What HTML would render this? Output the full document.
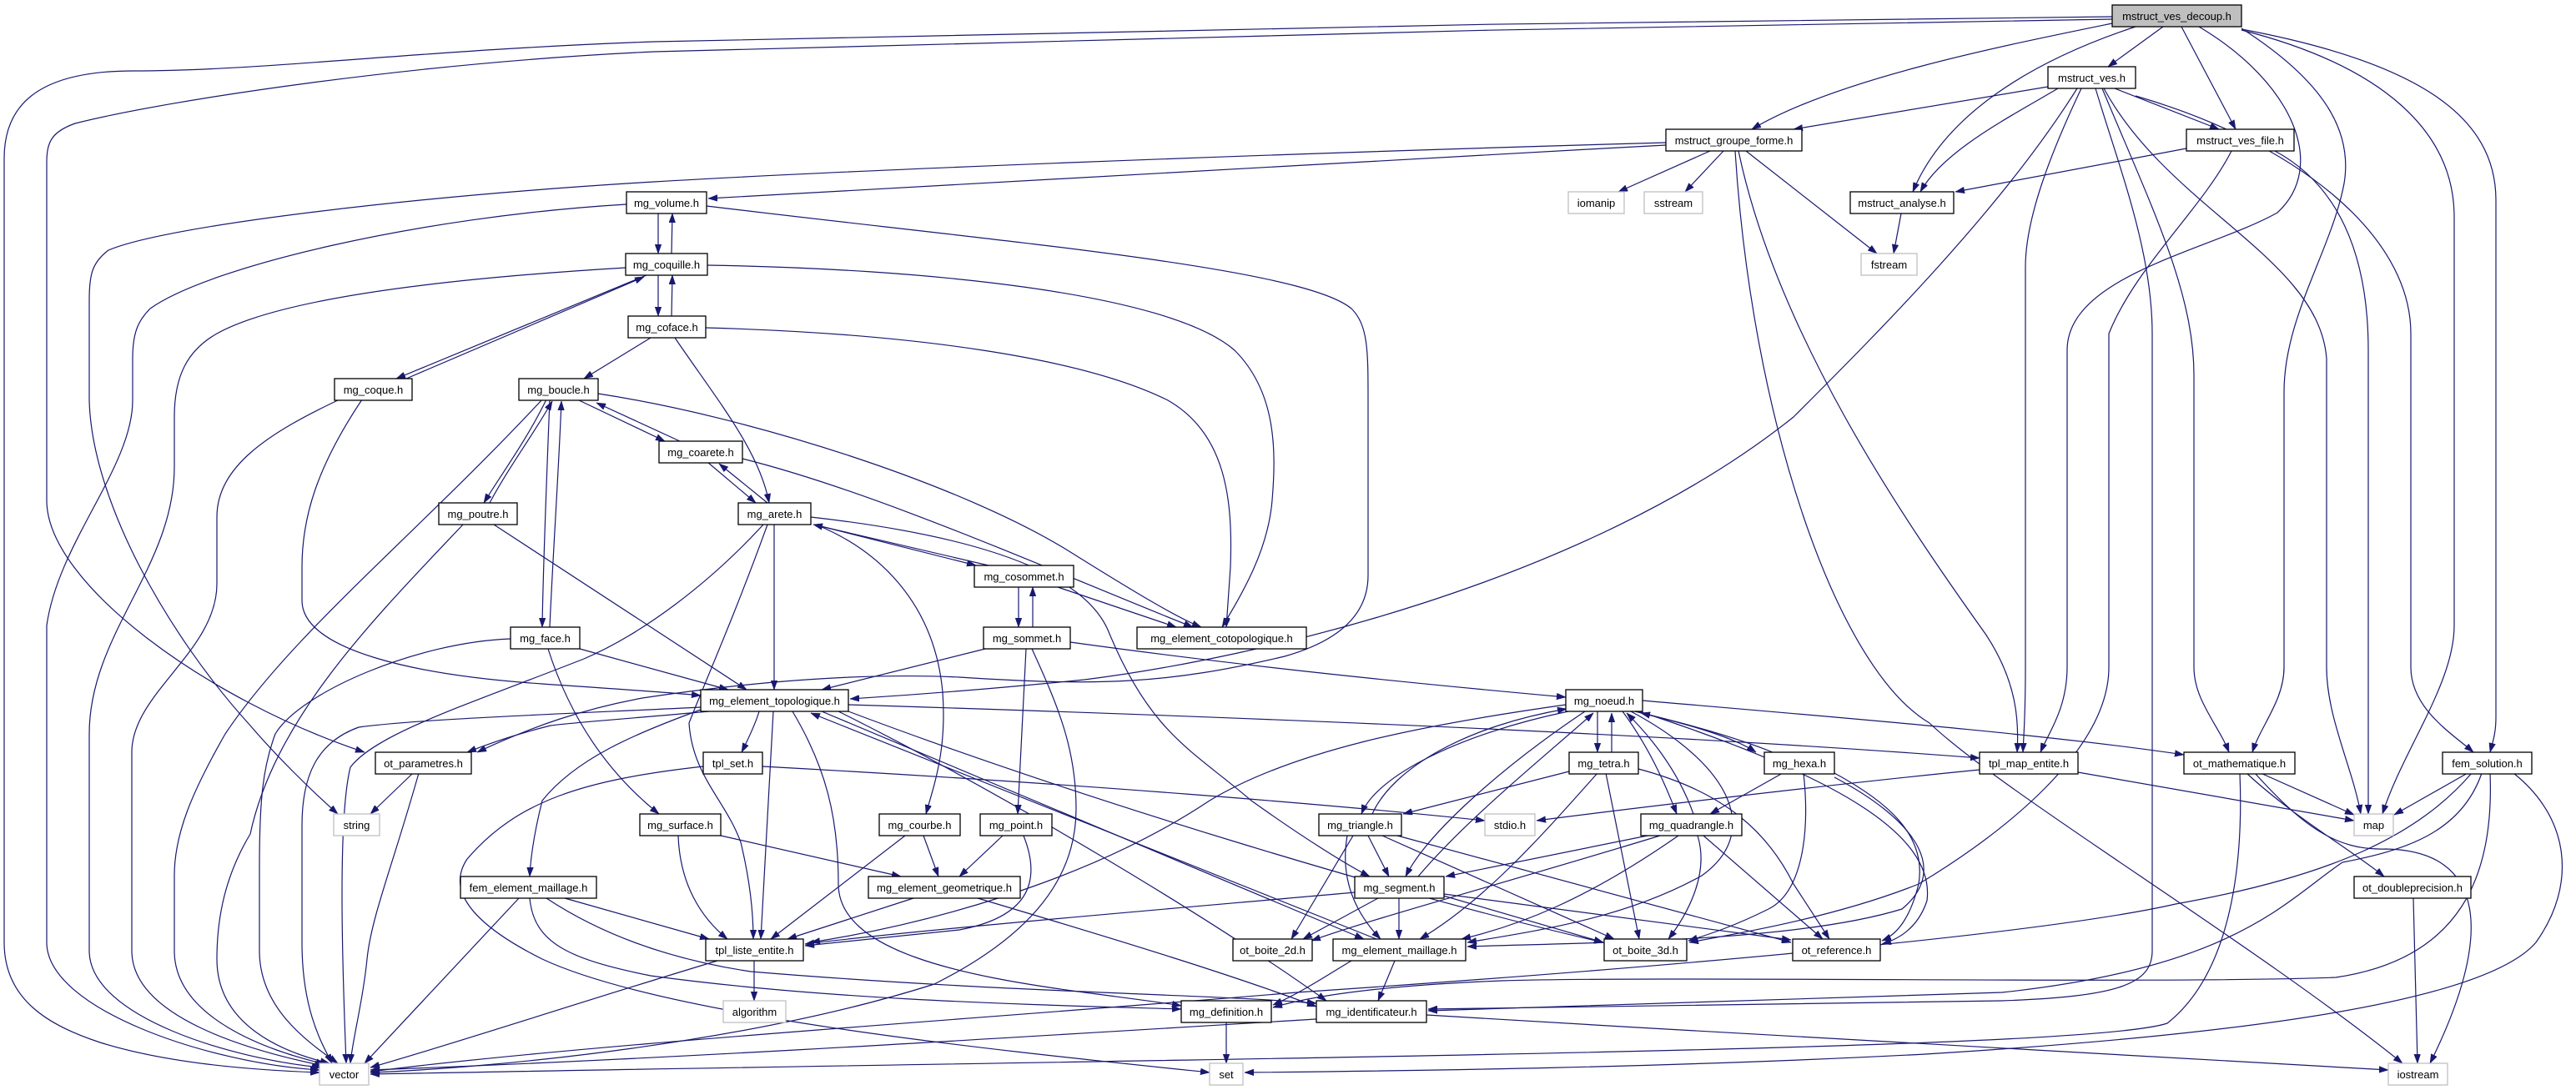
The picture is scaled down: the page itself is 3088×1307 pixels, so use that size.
<!DOCTYPE html>
<html><head><meta charset="utf-8"><style>
html,body{margin:0;padding:0;background:#fff;}
svg{display:block;}
text{font-family:"Liberation Sans",Arial,sans-serif;font-size:13px;fill:#000;}
</style></head><body>
<svg xmlns="http://www.w3.org/2000/svg" width="3088" height="1307" viewBox="0 0 3088 1307">
<defs>
<marker id="a" viewBox="0 0 10 7" refX="10" refY="3.5" markerWidth="11" markerHeight="8" markerUnits="userSpaceOnUse" orient="auto">
<path d="M0,0 L10,3.5 L0,7 z" fill="#191970" stroke="#191970" stroke-width="0.5"/>
</marker>
</defs>
<rect width="3088" height="1307" fill="#fff"/>
<g fill="none" stroke="#191970" stroke-width="1.2" marker-end="url(#a)">
<!-- decoup -->
<path d="M2532,20 C2000,24 1200,38 784,50 C500,60 320,85 160,85 C40,85 5,130 5,190 L5,1130 C5,1200 60,1230 120,1250 C200,1275 300,1283 383,1286"/>
<path d="M2532,23 C2000,30 1200,48 784,62 C500,75 200,120 90,148 C62,158 56,170 56,195 L56,600 C56,700 250,840 437,902"/>
<path d="M2532,28 C2400,55 2200,95 2100,155"/>
<path d="M2593,32 L2527,80"/>
<path d="M2615,32 L2680,155"/>
<path d="M2560,32 C2430,75 2330,140 2293,230"/>
<path d="M2636,32 C2750,100 2790,200 2730,255 C2650,300 2478,330 2478,420 L2478,800 C2478,850 2455,880 2446,902"/>
<path d="M2687,34 C2790,100 2820,160 2810,220 C2795,300 2738,380 2738,470 L2738,800 C2738,840 2710,870 2700,902"/>
<path d="M2687,36 C2860,80 2942,160 2942,260 L2942,750 C2942,820 2880,900 2856,976"/>
<path d="M2687,35 C2900,75 2992,140 2992,240 L2992,860 C2992,880 2988,890 2985,902"/>
<!-- ves -->
<path d="M2455,104 L2150,155"/>
<path d="M2467,106 C2410,140 2330,180 2302,230"/>
<path d="M2535,106 L2660,155"/>
<path d="M2495,106 C2460,180 2428,260 2428,320 L2428,800 C2428,860 2426,880 2425,902"/>
<path d="M2512,106 C2540,200 2580,300 2580,400 L2580,1140 C2580,1180 2540,1195 2400,1200 C2100,1205 1850,1208 1712,1210"/>
<path d="M2520,106 C2580,250 2630,350 2630,450 L2630,800 C2630,840 2660,870 2672,902"/>
<path d="M2522,106 C2600,250 2780,310 2789,430 L2789,800 C2789,860 2820,920 2830,976"/>
<path d="M2560,115 C2750,170 2890,280 2890,400 L2890,800 C2890,850 2940,880 2965,902"/>
<path d="M2490,106 C2400,250 2250,400 2150,500 C1900,700 1500,790 1300,815 C1150,830 1050,836 1019,838"/>
<!-- ves_file -->
<path d="M2621,178 L2344,230"/>
<path d="M2675,181 C2640,250 2560,320 2528,400 L2528,800 C2528,900 2400,1000 2300,1060 C2200,1100 2080,1120 2025,1130"/>
<path d="M2727,181 C2800,220 2839,300 2839,420 L2839,976"/>
<!-- groupe_forme -->
<path d="M1997,174 C1600,195 1200,220 849,238"/>
<path d="M1997,171 C1500,185 1000,205 784,218 C500,235 200,270 130,300 C110,315 107,330 107,360 L107,480 C110,600 200,760 300,870 C330,905 370,945 405,976"/>
<path d="M2050,181 L1940,230"/>
<path d="M2066,181 L2020,230"/>
<path d="M2093,181 L2250,304"/>
<path d="M2084,181 C2130,400 2280,620 2380,760 C2420,820 2420,870 2418,902"/>
<path d="M2080,181 C2100,500 2200,800 2313,867 C2400,950 2700,1130 2880,1275"/>
<!-- analyse -->
<path d="M2279,256 L2270,304"/>
<!-- volume -->
<path d="M789,256 L789,304"/>
<path d="M847,247 C1200,290 1560,320 1620,370 C1640,390 1640,420 1640,480 L1640,690 C1640,740 1600,770 1540,787 C1400,820 1320,823 1150,812 C1000,805 850,825 770,837 C700,850 640,870 572,902"/>
<path d="M751,245 C500,260 250,320 180,370 C165,385 159,400 159,430 L159,480 C159,560 70,650 56,750 L56,1130 C56,1210 250,1275 383,1283"/>
<!-- coquille -->
<path d="M805,304 L806,256"/>
<path d="M789,330 L789,379"/>
<path d="M775,330 L475,454"/>
<path d="M750,321 C600,330 350,350 260,400 C225,420 209,450 209,500 L209,560 C209,680 107,760 107,880 L107,1140 C107,1220 280,1270 385,1280"/>
<path d="M848,318 C1100,322 1400,350 1480,420 C1530,470 1530,540 1525,600 C1520,660 1490,710 1465,752"/>
<!-- coface -->
<path d="M805,379 L806,330"/>
<path d="M780,405 L700,454"/>
<path d="M809,405 C860,480 910,540 922,603"/>
<path d="M846,393 C1100,400 1300,430 1400,480 C1470,520 1478,600 1475,680 L1470,752"/>
<!-- coque -->
<path d="M487,454 L772,332"/>
<path d="M407,479 C320,520 260,560 260,620 L260,700 C260,780 160,830 158,900 L158,1140 C158,1220 300,1260 388,1278"/>
<path d="M434,479 C380,560 362,620 362,680 L362,720 C362,780 500,810 650,820 C750,827 800,830 840,834"/>
<!-- boucle -->
<path d="M650,479 C500,640 350,760 270,880 C230,950 209,1000 209,1050 L209,1140 C209,1220 320,1260 390,1276"/>
<path d="M655,479 C630,530 600,570 580,603"/>
<path d="M659,479 C655,580 651,680 650,752"/>
<path d="M692,479 L797,529"/>
<path d="M717,472 C900,500 1150,580 1280,660 C1360,710 1410,740 1440,752"/>
<!-- poutre -->
<path d="M587,603 C610,560 640,520 662,481"/>
<path d="M592,629 L895,827"/>
<path d="M555,629 C450,740 330,860 300,1000 C270,1050 260,1100 260,1150 C260,1230 340,1262 395,1275"/>
<!-- face -->
<path d="M659,752 C662,680 670,560 673,481"/>
<path d="M695,778 L873,827"/>
<path d="M612,766 C500,770 360,830 330,880 C315,920 311,960 311,1040 L311,1140 C311,1210 370,1250 405,1275"/>
<path d="M657,778 C680,850 720,920 790,976"/>
<!-- coarete -->
<path d="M815,529 L715,483"/>
<path d="M848,554 L906,603"/>
<path d="M890,550 C1050,590 1250,680 1430,752"/>
<!-- arete -->
<path d="M920,603 L862,556"/>
<path d="M928,629 L928,827"/>
<path d="M915,629 C850,700 770,760 700,790 C560,845 450,880 420,920 C405,980 410,1150 415,1275"/>
<path d="M920,629 C880,740 840,830 826,867 C830,930 870,960 888,1010 C900,1060 903,1100 903,1126"/>
<path d="M980,630 L1170,678"/>
<path d="M985,632 C1050,660 1120,720 1130,830 C1135,900 1120,940 1110,976"/>
<path d="M972,620 C1150,640 1300,680 1330,760 C1380,880 1430,900 1500,960 C1570,1010 1620,1040 1642,1051"/>
<!-- cosommet -->
<path d="M1185,678 L975,629"/>
<path d="M1221,703 L1221,752"/>
<path d="M1265,703 L1410,752"/>
<!-- sommet -->
<path d="M1238,752 L1238,704"/>
<path d="M1181,778 L985,827"/>
<path d="M1230,778 L1220,976"/>
<path d="M1237,778 C1270,850 1290,900 1290,970 C1290,1050 1240,1120 1120,1180 C900,1250 600,1280 444,1286"/>
<path d="M1283,770 C1500,800 1700,820 1877,836"/>
<!-- elem_topo -->
<path d="M850,853 C750,862 680,867 660,870 C620,880 590,890 560,902"/>
<path d="M840,848 C700,855 500,862 430,872 C380,890 362,930 362,990 L362,1130 C362,1210 385,1250 398,1275"/>
<path d="M910,853 C905,870 895,890 889,902"/>
<path d="M927,853 L912,1126"/>
<path d="M950,853 C990,920 1005,980 1005,1060 C1005,1140 1150,1170 1300,1190 C1360,1198 1400,1203 1416,1206"/>
<path d="M985,853 L1635,1126"/>
<path d="M1017,853 C1300,960 1700,1080 1922,1130"/>
<path d="M1005,853 C1200,950 1450,1100 1590,1200"/>
<path d="M1017,845 C1500,860 2000,880 2373,909"/>
<path d="M840,851 C760,880 690,910 650,960 C640,1000 636,1030 635,1051"/>
<!-- noeud -->
<path d="M1915,853 L1915,902"/>
<path d="M1960,853 C2030,870 2080,885 2105,902"/>
<path d="M1880,853 C1750,880 1650,930 1632,976"/>
<path d="M1945,853 C1980,900 2000,950 2010,976"/>
<path d="M1900,853 C1800,920 1710,1000 1685,1051"/>
<path d="M1969,840 C2200,860 2450,880 2618,905"/>
<path d="M1877,845 C1700,870 1550,900 1450,960 C1300,1060 1100,1110 972,1130"/>
<path d="M1955,853 C2080,920 2110,1000 2040,1050 C1950,1100 1850,1115 1759,1130"/>
<path d="M1965,853 C2200,930 2320,1000 2310,1080 C2300,1110 2280,1125 2256,1132"/>
<!-- tetra -->
<path d="M1932,902 L1932,855"/>
<path d="M1881,925 L1682,976"/>
<path d="M1915,927 C1850,1000 1780,1080 1702,1126"/>
<path d="M1925,927 L1965,1126"/>
<path d="M1964,922 C2070,950 2120,1000 2150,1060 L2193,1126"/>
<!-- hexa -->
<path d="M2125,902 C2070,880 2010,865 1967,855"/>
<path d="M2137,927 L2050,976"/>
<path d="M2162,927 C2170,1000 2160,1070 2120,1090 C2080,1110 2050,1120 2024,1128"/>
<path d="M2199,927 C2260,960 2310,1000 2300,1060 C2290,1100 2275,1120 2256,1128"/>
<path d="M2199,932 C2290,980 2340,1040 2280,1090 C2150,1130 1900,1130 1759,1135"/>
<!-- triangle -->
<path d="M1645,976 C1670,920 1760,870 1878,850"/>
<path d="M1640,1002 L1665,1051"/>
<path d="M1622,1002 L1548,1126"/>
<path d="M1615,1002 C1605,1060 1630,1100 1655,1126"/>
<path d="M1657,1002 L1935,1126"/>
<path d="M1675,1002 L2147,1130"/>
<!-- quadrangle -->
<path d="M2030,976 C2010,920 1975,880 1950,855"/>
<path d="M1975,1002 L1733,1051"/>
<path d="M1990,1002 C1800,1060 1650,1100 1572,1128"/>
<path d="M2012,1002 C1900,1080 1820,1110 1752,1126"/>
<path d="M2035,1002 C2050,1050 2020,1100 2000,1126"/>
<path d="M2042,1002 L2185,1126"/>
<!-- segment -->
<path d="M1700,1051 C1760,980 1860,900 1910,855"/>
<path d="M1677,1077 L1677,1126"/>
<path d="M1652,1077 L1562,1126"/>
<path d="M1730,1074 L1922,1130"/>
<path d="M1731,1072 L2147,1127"/>
<path d="M1624,1070 C1400,1090 1100,1115 965,1132"/>
<!-- elem_maillage -->
<path d="M1650,1126 L972,855"/>
<path d="M1672,1152 L1652,1200"/>
<path d="M1620,1152 C1590,1170 1560,1190 1526,1205"/>
<!-- tpl_set -->
<path d="M914,919 C1300,940 1600,965 1780,984"/>
<path d="M843,919 C700,935 620,960 560,1030 C540,1060 550,1100 650,1150 C800,1220 1200,1260 1450,1286"/>
<!-- ot_parametres -->
<path d="M495,927 L444,976"/>
<path d="M502,927 C470,1040 445,1100 440,1150 C435,1200 422,1250 420,1275"/>
<!-- courbe point surface -->
<path d="M1085,1002 L924,1126"/>
<path d="M1107,1002 L1125,1051"/>
<path d="M1202,1002 L1150,1051"/>
<path d="M1227,1002 C1250,1060 1230,1100 1150,1115 C1050,1125 1000,1130 965,1134"/>
<path d="M813,1002 C815,1060 840,1100 872,1126"/>
<path d="M864,1002 L1080,1051"/>
<!-- elem_geometrique -->
<path d="M1095,1077 L944,1126"/>
<path d="M1172,1077 C1350,1130 1480,1170 1578,1207"/>
<!-- fem_element_maillage -->
<path d="M622,1077 L437,1275"/>
<path d="M677,1077 L850,1126"/>
<path d="M635,1077 C640,1130 680,1150 780,1170 C1000,1200 1250,1205 1416,1210"/>
<path d="M655,1077 C720,1120 800,1150 900,1165 C1200,1190 1450,1192 1578,1203"/>
<!-- tpl_liste_entite -->
<path d="M904,1152 L904,1200"/>
<path d="M860,1152 C700,1200 550,1250 444,1280"/>
<!-- definition / identificateur -->
<path d="M1470,1226 L1470,1275"/>
<path d="M1578,1222 C1200,1245 800,1270 444,1283"/>
<path d="M1710,1217 C2100,1240 2500,1265 2863,1283"/>
<!-- ot_mathematique -->
<path d="M2710,927 L2822,977"/>
<path d="M2693,927 C2750,980 2820,1020 2858,1051"/>
<path d="M2703,927 C2760,990 2800,1020 2860,1018 C2980,1020 2990,1120 2913,1275"/>
<path d="M2685,927 C2690,1050 2670,1170 2598,1227 C2500,1260 1500,1268 444,1288"/>
<!-- fem_solution -->
<path d="M2958,927 L2870,977"/>
<path d="M2963,927 C2900,1000 2800,1050 2608,1084 C2450,1120 2000,1160 1554,1190 C1200,1220 700,1252 444,1285"/>
<path d="M2975,927 C2950,1000 2880,1020 2808,1034 C2740,1080 2680,1160 2400,1190 C2100,1200 1850,1206 1712,1212"/>
<path d="M2985,927 C2990,1050 2950,1150 2800,1172 C2600,1180 2000,1170 1800,1176 C1650,1182 1570,1195 1526,1208"/>
<path d="M3013,927 C3080,980 3090,1060 3040,1130 C2980,1200 2700,1240 2308,1264 C2000,1280 1700,1284 1492,1286"/>
<!-- ot_doubleprecision -->
<path d="M2893,1077 L2898,1275"/>
<!-- tpl_map_entite -->
<path d="M2491,926 L2822,984"/>
<path d="M2373,923 C2200,940 1950,970 1842,984"/>
</g>

<g stroke="#000" stroke-width="1.3" fill="#fff">
<rect x="2532" y="6" width="155" height="26" fill="#bfbfbf"/>
<rect x="2455" y="80" width="105" height="26"/>
<rect x="1997" y="155" width="163" height="26"/>
<rect x="2621" y="155" width="129" height="26"/>
<rect x="751" y="230" width="96" height="26"/>
<rect x="2218" y="230" width="124" height="26"/>
<rect x="750" y="304" width="98" height="26"/>
<rect x="753" y="379" width="93" height="26"/>
<rect x="401" y="454" width="93" height="26"/>
<rect x="622" y="454" width="95" height="26"/>
<rect x="790" y="529" width="100" height="26"/>
<rect x="526" y="603" width="94" height="26"/>
<rect x="885" y="603" width="87" height="26"/>
<rect x="1168" y="678" width="119" height="26"/>
<rect x="612" y="752" width="83" height="26"/>
<rect x="1179" y="752" width="104" height="26"/>
<rect x="1363" y="752" width="203" height="26"/>
<rect x="840" y="827" width="177" height="26"/>
<rect x="1877" y="827" width="92" height="26"/>
<rect x="450" y="902" width="115" height="26"/>
<rect x="843" y="902" width="71" height="26"/>
<rect x="1881" y="902" width="83" height="26"/>
<rect x="2115" y="902" width="84" height="26"/>
<rect x="2373" y="902" width="118" height="26"/>
<rect x="2618" y="902" width="133" height="26"/>
<rect x="2928" y="902" width="107" height="26"/>
<rect x="767" y="976" width="97" height="26"/>
<rect x="1054" y="976" width="97" height="26"/>
<rect x="1175" y="976" width="86" height="26"/>
<rect x="1581" y="976" width="99" height="26"/>
<rect x="1967" y="976" width="121" height="26"/>
<rect x="552" y="1051" width="163" height="26"/>
<rect x="1041" y="1051" width="182" height="26"/>
<rect x="1624" y="1051" width="107" height="26"/>
<rect x="2822" y="1051" width="140" height="26"/>
<rect x="846" y="1126" width="117" height="26"/>
<rect x="1478" y="1126" width="95" height="26"/>
<rect x="1598" y="1126" width="159" height="26"/>
<rect x="1923" y="1126" width="99" height="26"/>
<rect x="2149" y="1126" width="105" height="26"/>
<rect x="1416" y="1200" width="108" height="26"/>
<rect x="1578" y="1200" width="132" height="26"/>
</g>
<g stroke="#bfbfbf" stroke-width="1.3" fill="#fff">
<rect x="1880" y="230" width="67" height="26"/>
<rect x="1971" y="230" width="70" height="26"/>
<rect x="2231" y="304" width="67" height="26"/>
<rect x="400" y="976" width="55" height="26"/>
<rect x="1780" y="976" width="60" height="26"/>
<rect x="2822" y="976" width="47" height="26"/>
<rect x="867" y="1200" width="75" height="26"/>
<rect x="383" y="1275" width="59" height="26"/>
<rect x="1450" y="1275" width="40" height="26"/>
<rect x="2863" y="1275" width="71" height="26"/>
</g>

<g text-anchor="middle">
<text x="2609.5" y="24">mstruct_ves_decoup.h</text>
<text x="2507.5" y="98">mstruct_ves.h</text>
<text x="2078.5" y="173">mstruct_groupe_forme.h</text>
<text x="2685.5" y="173">mstruct_ves_file.h</text>
<text x="799" y="248">mg_volume.h</text>
<text x="1913.5" y="248">iomanip</text>
<text x="2006" y="248">sstream</text>
<text x="2280" y="248">mstruct_analyse.h</text>
<text x="799" y="322">mg_coquille.h</text>
<text x="2264.5" y="322">fstream</text>
<text x="799.5" y="397">mg_coface.h</text>
<text x="447.5" y="472">mg_coque.h</text>
<text x="669.5" y="472">mg_boucle.h</text>
<text x="840" y="547">mg_coarete.h</text>
<text x="573" y="621">mg_poutre.h</text>
<text x="928.5" y="621">mg_arete.h</text>
<text x="1227.5" y="696">mg_cosommet.h</text>
<text x="653.5" y="770">mg_face.h</text>
<text x="1231" y="770">mg_sommet.h</text>
<text x="1464.5" y="770">mg_element_cotopologique.h</text>
<text x="928.5" y="845">mg_element_topologique.h</text>
<text x="1923" y="845">mg_noeud.h</text>
<text x="507.5" y="920">ot_parametres.h</text>
<text x="878.5" y="920">tpl_set.h</text>
<text x="1922.5" y="920">mg_tetra.h</text>
<text x="2157" y="920">mg_hexa.h</text>
<text x="2432" y="920">tpl_map_entite.h</text>
<text x="2684.5" y="920">ot_mathematique.h</text>
<text x="2981.5" y="920">fem_solution.h</text>
<text x="427.5" y="994">string</text>
<text x="815.5" y="994">mg_surface.h</text>
<text x="1102.5" y="994">mg_courbe.h</text>
<text x="1218" y="994">mg_point.h</text>
<text x="1630.5" y="994">mg_triangle.h</text>
<text x="1810" y="994">stdio.h</text>
<text x="2027.5" y="994">mg_quadrangle.h</text>
<text x="2845.5" y="994">map</text>
<text x="633.5" y="1069">fem_element_maillage.h</text>
<text x="1132" y="1069">mg_element_geometrique.h</text>
<text x="1677.5" y="1069">mg_segment.h</text>
<text x="2892" y="1069">ot_doubleprecision.h</text>
<text x="904.5" y="1144">tpl_liste_entite.h</text>
<text x="1525.5" y="1144">ot_boite_2d.h</text>
<text x="1677.5" y="1144">mg_element_maillage.h</text>
<text x="1972.5" y="1144">ot_boite_3d.h</text>
<text x="2201.5" y="1144">ot_reference.h</text>
<text x="904.5" y="1218">algorithm</text>
<text x="1470" y="1218">mg_definition.h</text>
<text x="1644" y="1218">mg_identificateur.h</text>
<text x="412.5" y="1293">vector</text>
<text x="1470" y="1293">set</text>
<text x="2898.5" y="1293">iostream</text>
</g>
</svg>
</body></html>
